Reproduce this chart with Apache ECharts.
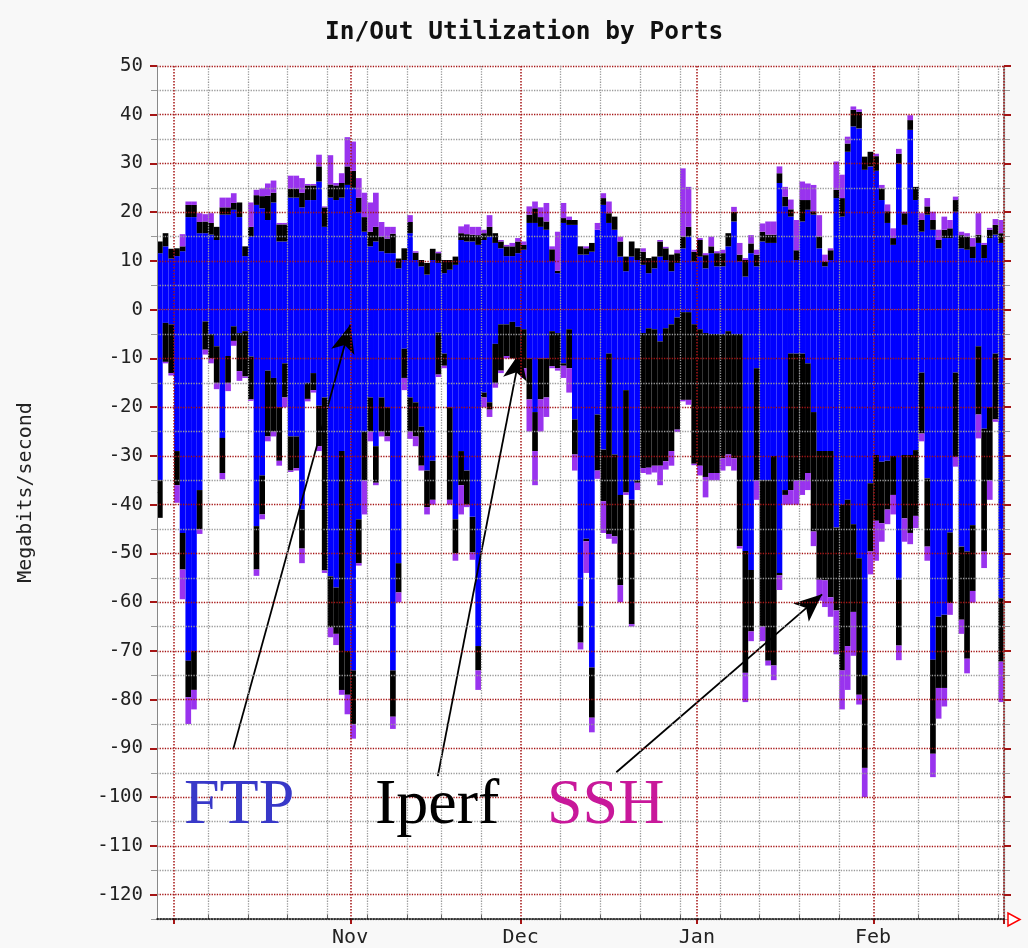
<!DOCTYPE html>
<html><head><meta charset="utf-8">
<script src="https://cdn.jsdelivr.net/npm/echarts@6/dist/echarts.min.js"></script>
<style>html,body{margin:0;padding:0;background:#f8f8f8}#c{width:1028px;height:948px}</style>
</head><body><div id="c"></div>
<script>
// ---- categories: one bar per day, 2005-09-28 .. 2006-02-23 ----
const categories = [];
for (let i = 0; i < 149; i++) {
  categories.push(new Date(Date.UTC(2005, 8, 28 + i)).toISOString().slice(0, 10));
}
const monthAbbr = ['Jan','Feb','Mar','Apr','May','Jun','Jul','Aug','Sep','Oct','Nov','Dec'];
const monthLabelDates = ['2005-11-01', '2005-12-01', '2006-01-01', '2006-02-01'];
const monthGridDates = ['2005-10-01', '2005-11-01', '2005-12-01', '2006-01-01', '2006-02-01'];
const weekGridIdx = [9,16,23,30,37,44,50,57,71,78,85,92,99,106,113,120,134,141,148];
const yMajorTicks = [-120,-110,-100,-90,-80,-70,-60,-50,-40,-30,-20,-10,0,10,20,30,40,50];

// ---- inbound (positive) Mbit/s ----
const inFtp = [11.6,13,10.5,11,12,19,19,15.7,15.7,15.4, 14.3,19.5,19.5,20.5,19,11,15,21.5,20.8,18.4,
  22,14,14,23,23,21,22.5,22.5,26.3,17, 23,22.5,23,25.6,25,20,16,13,14,12,
  11.6,11.6,8.5,10.2,15.7,10.2,8.9,7.2,10.2,9.6, 7.5,8.2,9.2,14.3,14,14,13.3,14.3,15,13.7,
  12.6,11,11,11.6,12.3,17.8,17.8,17,16.4,10, 7.5,17.8,17.4,17.4,11.3,11.3,11.9,16.4,21.5,17.8,
  16.4,10.9,7.9,10.9,10.2,9.2,7.5,8.5,10.9,10.2, 7.9,9.6,12.6,15,9.9,10.9,8.5,11.6,8.9,8.9,
  13,18.1,9.9,6.8,11.6,8.9,14,13.7,13.7,26, 21.2,19.1,10.2,18.1,20.5,19.5,12.6,8.9,10.2,22.9,
  19.1,32.4,37.6,37.2,28.7,29.4,28.5,22.5,17.8,13.3, 30,17.4,36.9,22.5,16,19.5,16.4,12.6,14.7,14.7,
  20.1,12.6,12.3,10.6,13.7,10.6,14.7,15.4,13.7];
const inIperf = [2.4,2.7,2,1.6,1,2.5,2.5,2.3,2.4,2.4, 2.7,1.5,1.5,1.4,3,2,2,2,2.5,5,
  2,3.5,3.5,1.8,1.8,3,3,3,3.1,4, 2.7,3,3,3.8,3.5,3,3,3,3,3,
  3,4,2,2.4,2.3,1.5,1.3,2.4,2.3,2, 2.7,2,1.7,1.4,1.5,1.4,2,1.4,2,2,
  1.4,2,2,2.4,1,1.7,3,2,1.7,2.4, 0.5,1,1,1,1.7,1.3,1.8,0,1.4,2,
  2.7,3.1,3,3.1,2.4,2.7,3.1,2.4,3.1,2.4, 3.4,2,2.4,2,2,3.4,2.7,1.4,2.7,2.7,
  2.7,2,1.4,3.4,2,2.4,2,1.7,1.7,2, 2,1.5,2,4.4,2,0.7,2.4,1,2,1.7,
  3.8,1.7,3.4,3.4,2.7,3,3,2.4,2.4,1.4, 2,2.4,2,2.7,2.4,1.7,2,1.7,1.7,2,
  2.4,2.7,2.7,2.4,1.7,2.7,1.7,2,2];
const inSsh = [0,0,0,0,2.5,0.7,0.7,1.8,1.5,2, 0,2,2,2,0,0,5,1.1,1.6,2.5,
  2.5,0.3,0.3,2.7,2.7,3,0.3,0.3,2.4,0.2, 6,0.5,2,6,6,4,5,6,7,3,
  2.4,1.4,0,0,1.4,0.3,0,0,0,0.3, 0,0,0,1.4,2,1.6,1.7,0.7,2.4,0,
  0.3,0.3,0.7,0.7,0.7,1.7,1.4,2,3.8,0.6, 8,3.1,0.7,0,0,0.4,0,1.4,1,2.4,
  0,1,0,0,0,0.7,0,0,0.3,0.3, 0,0.7,14,8.2,0.4,0.4,0.4,2,0.4,0.7,
  0,1,2.4,0.4,1.7,1,1.7,2.7,2.7,1.4, 2,2,6.2,3.8,3.4,5.4,4.4,1.4,0.4,5.8,
  4.8,1.4,0.7,0.5,0,0,0.5,0.7,1.4,2, 1,0.3,1,0,1.4,1.7,1.7,2.1,2.7,1.7,
  0.7,0.7,0.7,1.7,4.4,0.4,0.4,1.2,2.7];

// ---- outbound (drawn below zero) Mbit/s, magnitudes ----
const outFtp = [35,2.7,3,29,45.8,72,70,37,2.4,5, 7.5,26.3,9.5,3.4,4.8,4.4,9.6,44.4,34,12.5,
  14,20,11,26,26,41,15,13,19.7,18, 54.7,57,29,70,74,43,25,18,28,18,
  20,74,52,8,18,19,24,33,31,4.7, 9,20,43,29,33,42.5,69,17,19,7,
  3,3,2.5,3.5,4,10,21,10,10,4.4, 4.8,11,4,22.5,60.8,47,73.4,21.5,28.7,9,
  29.7,38,16.5,39,35,4.8,3.8,4,6.5,3.8, 3,1.6,0.5,0.5,3,4,4.8,5,5,5,
  4.4,5,5,49.5,53.4,12,35,35,30,54, 37,9,9,9,11,21,29,29,29,44.7,
  40,39,44,51,75,35.6,29.8,31.2,31,30, 55.4,29.8,29.8,28.8,12.9,34.6,71.8,63,62.6,45.7,
  12.9,48.6,49.6,44.2,7.5,24.4,20,9,59.2];
const outIperf = [7.7,8,10,7,7.5,7.5,8,8,5.8,5, 7.5,7.2,5.5,3,7.8,9.3,8.8,8.9,8,13.5,
  11,11,7,7,6.5,8,3.3,3.5,8.3,35.5, 10.5,9.5,49,9,11,9,10,7,7.5,7,
  6,9.5,6,6,7,7,8,7.5,8,8.6, 2.5,19,7,7,7,7.3,5,1,1.5,8,
  9.5,6.5,7.5,8.2,8,8.4,8,8.4,8,7.2, 7.2,0.5,8,7.2,7.5,0.5,10.3,11.5,10.6,37,
  16.8,18.5,21,25.5,0.5,27.7,28.6,28,25.5,27.3, 26,23,18,18,28.6,28,29.5,28.5,28.5,25.5,
  25.3,25.5,43.5,25,12.6,23,30,37,43,0.5, 1,28,26,26,22.5,24.5,26.4,26.5,30,17,
  34,30,18,28,19,14,13.5,12.6,10,8, 13.5,13,16,13.5,12.5,14,19.3,14.6,15,14.5,
  17.3,15,22,13.5,14,25.2,15,13.5,13];
const outSsh = [0,0.3,0.5,3.6,6.1,5.5,4,1,1,1, 1.3,1.3,1.7,1,2,0.3,0.3,1.3,1,1,
  1,1,2,0.3,0.5,3,0.5,0.5,1,0.5, 2,2.3,1,4,3,0.5,7,2,0.5,1,
  1,2.5,2,2.5,1.5,2,1,1.5,1,0.5, 0.5,1,1.5,6,0.5,1.5,4,2,1.5,1,
  0.5,0.5,0,0.3,2,6.6,7,6.6,4,0.4, 0.5,2.5,5,3.3,1.4,6.5,3,1.7,6.5,1,
  1.5,3.5,0.5,0.5,1.5,1,1.4,1.4,4,1.7, 3,0.5,0.3,1,0.3,2,4.2,1.5,1.5,2.5,
  2.4,2.5,0.5,6,2,4,3,1,3,3, 2,3,5,3,3.5,3,4.3,5.5,4,9,
  8,9,9,2,6,4.7,8.2,3.8,3,4, 3,4.8,2.3,2.5,1.6,2.9,4.8,6.3,3.8,2.4,
  2,2.9,3,2.4,4.9,3.4,4,0.5,8.3];

// ---- annotation arrows in data space: [dayPosition, Mbit/s] ----
const arrowFtp = [[13.4, -90.2], [34.0, -3.1]];
const arrowIperf = [[49.4, -95.7], [63.9, -8.6]];
const arrowSsh = [[80.8, -94.9], [117.0, -58.4]];

const monthGridIdx = monthGridDates.map(d => categories.indexOf(d));
const monthLabelIdx = monthLabelDates.map(d => categories.indexOf(d));
const neg = a => a.map(v => -v);

const RED = '#a51414', GRAY = '#9a9a9a';
const MONO = 'DejaVu Sans Mono';

const chart = echarts.init(document.getElementById('c'), null, {renderer: 'canvas'});
const barBase = {type: 'bar', stack: 'all', xAxisIndex: 0, yAxisIndex: 0, barCategoryGap: '0%', barGap: '0%', silent: true};
const yBase = {type: 'value', min: -125, max: 50, interval: 5};

chart.setOption({
  animation: false,
  backgroundColor: '#f8f8f8',
  title: {
    text: 'In/Out Utilization by Ports', left: 320, top: 15,
    textStyle: {fontFamily: MONO, fontSize: 24.5, fontWeight: 'bold', color: '#111'}
  },
  grid: {left: 157, right: 24, top: 66, bottom: 28, show: true, backgroundColor: '#ffffff', borderWidth: 0, containLabel: false},
  xAxis: [
    { type: 'category', data: categories, position: 'bottom', z: 12,
      axisLine: {onZero: false, lineStyle: {color: '#000', type: 'dotted', width: 1.5}},
      axisTick: {show: false},
      splitLine: {show: false},
      axisLabel: {
        interval: (i) => monthLabelIdx.indexOf(i) >= 0,
        formatter: (v) => monthAbbr[parseInt(v.slice(5, 7), 10) - 1],
        fontFamily: MONO, fontSize: 20, color: '#222', margin: 9, padding: [0, 6, 0, 0]
      }
    },
    { type: 'category', data: categories, position: 'bottom', z: 11,
      axisLine: {show: false, onZero: false},
      axisLabel: {show: false},
      axisTick: {show: true, inside: false, length: 5, interval: (i) => monthGridIdx.indexOf(i) >= 0, lineStyle: {color: RED, width: 2}},
      splitLine: {show: true, interval: (i) => monthGridIdx.indexOf(i) >= 0, lineStyle: {color: RED, type: 'dotted', width: 1.5}}
    },
    { type: 'category', data: categories, position: 'bottom', z: 10,
      axisLine: {show: false, onZero: false},
      axisLabel: {show: false},
      axisTick: {show: true, inside: true, length: 4, interval: (i) => weekGridIdx.indexOf(i) >= 0, lineStyle: {color: '#666'}},
      splitLine: {show: true, interval: (i) => weekGridIdx.indexOf(i) >= 0, lineStyle: {color: GRAY, type: 'dotted', width: 1.3}}
    },
    { type: 'value', min: 0, max: 149, show: false, axisLine: {onZero: false} }
  ],
  yAxis: [
    Object.assign({}, yBase, {
      position: 'left', z: 10,
      name: 'Megabits/second', nameLocation: 'middle', nameGap: 121, nameRotate: 90,
      nameTextStyle: {fontFamily: MONO, fontSize: 20, color: '#222'},
      axisLine: {show: true, onZero: false, lineStyle: {color: '#888'}},
      axisTick: {show: true, length: 6, lineStyle: {color: '#999'}},
      axisLabel: {formatter: (v) => (v % 10 === 0 ? String(v) : ''), fontFamily: MONO, fontSize: 19, color: '#222', margin: 14},
      splitLine: {show: true, lineStyle: {color: [GRAY, RED], type: 'dotted', width: 1.3}}
    }),
    Object.assign({}, yBase, {
      position: 'left', z: 11,
      axisLine: {show: false, onZero: false},
      axisTick: {show: true, length: 7, customValues: yMajorTicks, lineStyle: {color: RED, width: 2}},
      axisLabel: {show: false, customValues: yMajorTicks},
      splitLine: {show: false}
    }),
    Object.assign({}, yBase, {
      position: 'right', z: 10,
      axisLine: {show: true, onZero: false, lineStyle: {color: '#888', width: 1.5}},
      axisTick: {show: true, length: 6, lineStyle: {color: '#999'}},
      axisLabel: {show: false},
      splitLine: {show: false}
    }),
    Object.assign({}, yBase, {
      position: 'right', z: 11,
      axisLine: {show: false, onZero: false},
      axisTick: {show: true, length: 7, customValues: yMajorTicks, lineStyle: {color: RED, width: 2}},
      axisLabel: {show: false, customValues: yMajorTicks},
      splitLine: {show: false}
    })
  ],
  series: [
    Object.assign({}, barBase, {name: 'FTP in', data: inFtp, itemStyle: {color: '#0000ff'}}),
    Object.assign({}, barBase, {name: 'FTP out', data: neg(outFtp), itemStyle: {color: '#0000ff'}}),
    Object.assign({}, barBase, {name: 'Iperf in', data: inIperf, itemStyle: {color: '#000000'}}),
    Object.assign({}, barBase, {name: 'Iperf out', data: neg(outIperf), itemStyle: {color: '#000000'}}),
    Object.assign({}, barBase, {name: 'SSH in', data: inSsh, itemStyle: {color: '#9933ee'}}),
    Object.assign({}, barBase, {name: 'SSH out', data: neg(outSsh), itemStyle: {color: '#9933ee'}}),
    {
      type: 'line', xAxisIndex: 3, yAxisIndex: 0, data: [], silent: true, z: 20,
      markLine: {
        silent: true, animation: false, symbol: ['none', 'arrow'], symbolSize: [18, 28],
        label: {show: false},
        lineStyle: {color: '#000', width: 1.8, type: 'solid'},
        data: [arrowFtp, arrowIperf, arrowSsh].map(a => [{coord: a[0]}, {coord: a[1]}])
      }
    }
  ],
  graphic: [
    {type: 'text', z: 100, style: {text: 'FTP', x: 184, y: 806, textVerticalAlign: 'middle', font: '64px "Liberation Serif"', fill: '#3838c8'}},
    {type: 'text', z: 100, style: {text: 'Iperf', x: 375, y: 806, textVerticalAlign: 'middle', font: '64px "Liberation Serif"', fill: '#000000'}},
    {type: 'text', z: 100, style: {text: 'SSH', x: 547, y: 806, textVerticalAlign: 'middle', font: '64px "Liberation Serif"', fill: '#c8189a'}},
    {type: 'polygon', z: 100, shape: {points: [[1008, 913], [1008, 926], [1020, 919.5]]}, style: {fill: '#fff', stroke: '#ff0000', lineWidth: 1.5}}
  ]
});
</script></body></html>
